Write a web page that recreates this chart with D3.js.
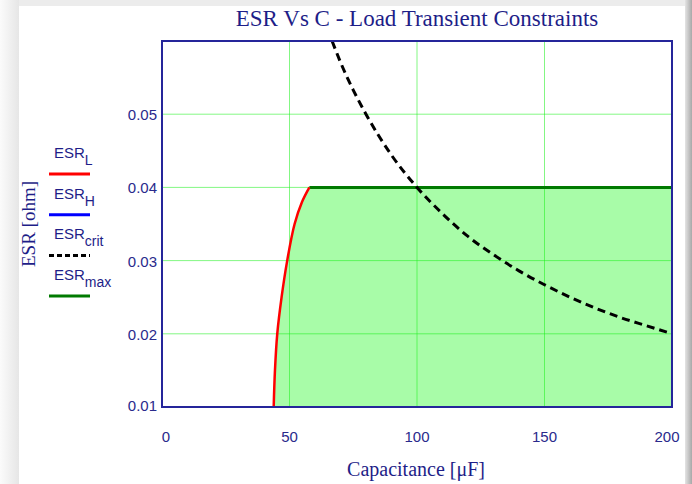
<!DOCTYPE html>
<html>
<head>
<meta charset="utf-8">
<script src="https://cdn.jsdelivr.net/npm/d3@7"></script>
<style>
    body { margin: 0; background: #fff; }
    .tick-label { font-family: Arial, "Liberation Sans", sans-serif; font-size: 15px; fill: #2a2a8c; }
    .serif { font-family: "Times New Roman", "Liberation Serif", serif; fill: #1e1e88; }
    .leg { font-family: Arial, "Liberation Sans", sans-serif; font-size: 15px; fill: #1e1e88; }
</style>
</head>
<body>
<svg width="692" height="484"></svg>
<script>
// data
var xTicks = [0, 50, 100, 150, 200];
var yTicks = [0.01, 0.02, 0.03, 0.04, 0.05];

// ESR_L curve (C in uF, ESR in ohm)
var esrL_C = [43.8, 44.3, 45.2, 46.9, 49.1, 52.0, 54.9, 57.8];
var esrL_R = [0.010, 0.015, 0.020, 0.025, 0.030, 0.035, 0.038, 0.040];

// ESR_crit curve
var esrCrit_C = [66.7, 70, 75, 80, 90, 100, 110, 120, 130, 140, 150, 160, 170, 180, 190, 200];
var esrCrit_R = [0.060, 0.0571, 0.0533, 0.050, 0.0444, 0.040, 0.0364, 0.0333, 0.0308, 0.0286,
    0.0267, 0.025, 0.0235, 0.0222, 0.0211, 0.020];

// ESR_max level
var esrMax_C = [57.8, 200];
var esrMax_R = [0.040, 0.040];

var legendItems = [
    { name: 'ESR', sub: 'L', color: '#ff0000', dash: null },
    { name: 'ESR', sub: 'H', color: '#0000ff', dash: null },
    { name: 'ESR', sub: 'crit', color: '#000000', dash: '5,3' },
    { name: 'ESR', sub: 'max', color: '#007a00', dash: null }
];

var svg = d3.select('svg');
var navy = '#25259a';
var gridColor = 'rgba(30,240,30,0.55)';

// slide-like shadow round the picture
var defs = svg.append('defs');
var gl = defs.append('linearGradient').attr('id', 'shadeL');
gl.append('stop').attr('offset', '0%').attr('stop-color', '#fbfbfb');
gl.append('stop').attr('offset', '100%').attr('stop-color', '#e6e6e6');
var gr = defs.append('linearGradient').attr('id', 'shadeR');
gr.append('stop').attr('offset', '0%').attr('stop-color', '#e4e4e4');
gr.append('stop').attr('offset', '100%').attr('stop-color', '#a8a8a8');
svg.append('rect').attr('x', 0).attr('y', 0).attr('width', 19).attr('height', 484).attr('fill', 'url(#shadeL)');
svg.append('rect').attr('x', 19).attr('y', 0).attr('width', 666).attr('height', 6).attr('fill', '#ececec');
svg.append('rect').attr('x', 685).attr('y', 0).attr('width', 7).attr('height', 484).attr('fill', 'url(#shadeR)');

var plot = { l: 162, r: 672, t: 41, b: 407 };

var x = d3.scaleLinear().domain([0, 200]).range([plot.l, plot.r]);
var y = d3.scaleLinear().domain([0.01, 0.06]).range([plot.b, plot.t]);

defs.append('clipPath').attr('id', 'plotClip')
    .append('rect')
    .attr('x', plot.l).attr('y', plot.t)
    .attr('width', plot.r - plot.l).attr('height', plot.b - plot.t);

var chartG = svg.append('g').attr('clip-path', 'url(#plotClip)');

var esrL = esrL_C.map(function (c, i) { return [c, esrL_R[i]]; });

var curveL = d3.line()
    .x(function (d) { return x(d[0]); })
    .y(function (d) { return y(d[1]); })
    .curve(d3.curveCatmullRom);

// feasible region: right of ESR_L, under ESR_max
chartG.append('path')
    .attr('d', curveL(esrL) + 'L' + x(200) + ',' + y(0.04) + 'L' + x(200) + ',' + y(0.01) + 'Z')
    .attr('fill', '#a8fca8');

// gridlines
chartG.selectAll('.vgrid')
    .data(xTicks.slice(1, -1))
    .enter()
    .append('line')
    .attr('x1', function (d) { return x(d); })
    .attr('x2', function (d) { return x(d); })
    .attr('y1', plot.t).attr('y2', plot.b)
    .attr('stroke', gridColor)
    .attr('stroke-width', 1);

chartG.selectAll('.hgrid')
    .data(yTicks.slice(1))
    .enter()
    .append('line')
    .attr('x1', plot.l).attr('x2', plot.r)
    .attr('y1', function (d) { return y(d); })
    .attr('y2', function (d) { return y(d); })
    .attr('stroke', gridColor)
    .attr('stroke-width', 1);

var line = d3.line()
    .x(function (d) { return x(d[0]); })
    .y(function (d) { return y(d[1]); });

// ESR_max
chartG.append('path')
    .attr('d', line(esrMax_C.map(function (c, i) { return [c, esrMax_R[i]]; })))
    .attr('fill', 'none')
    .attr('stroke', '#007a00')
    .attr('stroke-width', 3);

// ESR_L
chartG.append('path')
    .attr('d', curveL(esrL))
    .attr('fill', 'none')
    .attr('stroke', '#ff0000')
    .attr('stroke-width', 2.5);

// ESR_crit
chartG.append('path')
    .attr('d', line.curve(d3.curveMonotoneX)(esrCrit_C.map(function (c, i) { return [c, esrCrit_R[i]]; })))
    .attr('fill', 'none')
    .attr('stroke', '#000')
    .attr('stroke-width', 3)
    .attr('stroke-dasharray', '8,5');

// frame
svg.append('rect')
    .attr('x', plot.l).attr('y', plot.t)
    .attr('width', plot.r - plot.l).attr('height', plot.b - plot.t)
    .attr('fill', 'none')
    .attr('stroke', navy)
    .attr('stroke-width', 2);

// tick labels
svg.selectAll('.xlab')
    .data(xTicks)
    .enter()
    .append('text')
    .attr('class', 'tick-label')
    .attr('x', function (d) { return x(d) + (d === 0 ? 4 : (d === 200 ? -5 : 0)); })
    .attr('y', 442)
    .attr('text-anchor', 'middle')
    .text(function (d) { return d; });

svg.selectAll('.ylab')
    .data(yTicks)
    .enter()
    .append('text')
    .attr('class', 'tick-label')
    .attr('x', 157)
    .attr('y', function (d) { return y(d) + (d === 0.01 ? 4 : 6); })
    .attr('text-anchor', 'end')
    .text(function (d) { return d3.format('.2f')(d); });

// titles
svg.append('text')
    .attr('class', 'serif')
    .attr('x', 417).attr('y', 26)
    .attr('text-anchor', 'middle')
    .style('font-size', '23px')
    .text('ESR Vs C - Load Transient Constraints');

svg.append('text')
    .attr('class', 'serif')
    .attr('x', 416).attr('y', 476)
    .attr('text-anchor', 'middle')
    .style('font-size', '20px')
    .text('Capacitance [μF]');

svg.append('text')
    .attr('class', 'serif')
    .attr('transform', 'translate(35,224)rotate(-90)')
    .attr('text-anchor', 'middle')
    .style('font-size', '19px')
    .text('ESR [ohm]');

// legend
var legG = svg.selectAll('.legend')
    .data(legendItems)
    .enter()
    .append('g')
    .attr('transform', function (d, i) { return 'translate(' + [49, 158 + i * 40.7] + ')'; });

legG.append('text')
    .attr('class', 'leg')
    .attr('x', 5).attr('y', 0)
    .text(function (d) { return d.name; })
    .append('tspan')
    .attr('dy', 7)
    .style('font-size', '14px')
    .text(function (d) { return d.sub; });

legG.append('line')
    .attr('x1', 0).attr('x2', 41)
    .attr('y1', 16).attr('y2', 16)
    .attr('stroke', function (d) { return d.color; })
    .attr('stroke-width', 3)
    .attr('stroke-dasharray', function (d) { return d.dash; });
</script>
</body>
</html>
